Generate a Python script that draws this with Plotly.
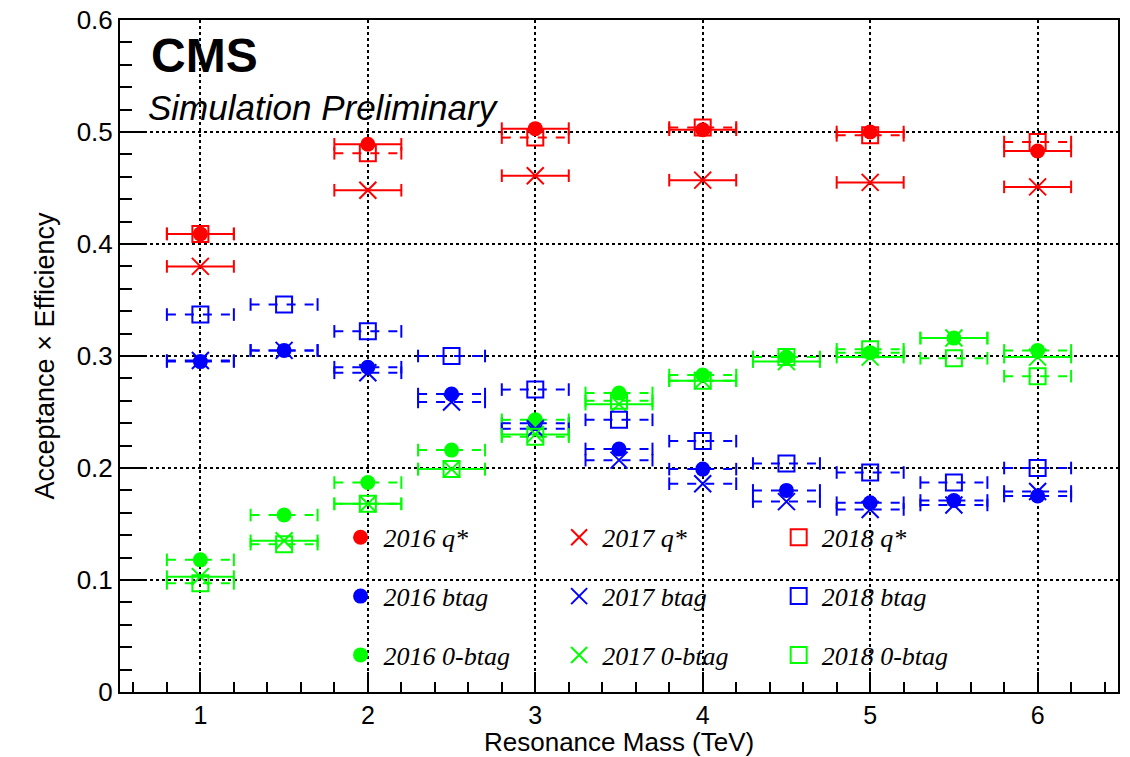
import numpy as np
import plotly.graph_objects as go

# ---------------- data ----------------
mass_qstar = [1, 2, 3, 4, 5, 6]
mass_btag = [1, 1.5, 2, 2.5, 3, 3.5, 4, 4.5, 5, 5.5, 6]
half_width = 0.2  # horizontal error (TeV)

qstar_2016 = [0.409, 0.489, 0.503, 0.502, 0.500, 0.483]
qstar_2017 = [0.380, 0.448, 0.461, 0.457, 0.455, 0.451]
qstar_2018 = [0.409, 0.481, 0.495, 0.504, 0.497, 0.491]

btag_2016 = [0.295, 0.305, 0.290, 0.266, 0.240, 0.217, 0.199, 0.180, 0.169, 0.171, 0.175]
btag_2017 = [0.296, 0.305, 0.285, 0.259, 0.235, 0.207, 0.186, 0.170, 0.163, 0.167, 0.179]
btag_2018 = [0.337, 0.346, 0.322, 0.300, 0.270, 0.243, 0.224, 0.204, 0.196, 0.187, 0.200]

zero_2016 = [0.118, 0.158, 0.187, 0.216, 0.243, 0.267, 0.283, 0.299, 0.303, 0.316, 0.305]
zero_2017 = [0.103, 0.135, 0.168, 0.199, 0.230, 0.257, 0.278, 0.295, 0.299, 0.316, 0.299]
zero_2018 = [0.097, 0.132, 0.168, 0.199, 0.228, 0.260, 0.278, 0.299, 0.306, 0.298, 0.282]

x_ticks = [1, 2, 3, 4, 5, 6]
y_ticks = [0, 0.1, 0.2, 0.3, 0.4, 0.5, 0.6]

RED, BLUE, GREEN = "#ff0000", "#0000ff", "#00ff00"

series = [
    # name, x, y, color, symbol, dash, legend
    ("2016 q*", mass_qstar, qstar_2016, RED, "circle", "solid", "legend"),
    ("2016 btag", mass_btag, btag_2016, BLUE, "circle", "dash", "legend"),
    ("2016 0-btag", mass_btag, zero_2016, GREEN, "circle", "dash", "legend"),
    ("2017 q*", mass_qstar, qstar_2017, RED, "x-thin-open", "solid", "legend2"),
    ("2017 btag", mass_btag, btag_2017, BLUE, "x-thin-open", "dash", "legend2"),
    ("2017 0-btag", mass_btag, zero_2017, GREEN, "x-thin-open", "solid", "legend2"),
    ("2018 q*", mass_qstar, qstar_2018, RED, "square-open", "dash", "legend3"),
    ("2018 btag", mass_btag, btag_2018, BLUE, "square-open", "dash", "legend3"),
    ("2018 0-btag", mass_btag, zero_2018, GREEN, "square-open", "dash", "legend3"),
]

fig = go.Figure()

for name, xs, ys, col, sym, dash, leg in series:
    xa = np.array(xs, dtype=float)
    ya = np.array(ys, dtype=float)
    # horizontal error bars
    bx, by = [], []
    for xv, yv in zip(xa, ya):
        bx += [xv - half_width, xv + half_width, None]
        by += [yv, yv, None]
    fig.add_trace(go.Scatter(x=bx, y=by, mode="lines", showlegend=False,
                             line=dict(color=col, width=2, dash=dash),
                             hoverinfo="skip"))
    # end caps
    cx = np.concatenate([xa - half_width, xa + half_width])
    cy = np.concatenate([ya, ya])
    fig.add_trace(go.Scatter(x=cx, y=cy, mode="markers", showlegend=False,
                             marker=dict(symbol="line-ns-open", size=9, color=col,
                                         line=dict(color=col, width=2)),
                             hoverinfo="skip"))

for name, xs, ys, col, sym, dash, leg in series:
    if sym == "circle":
        mk = dict(symbol=sym, size=15, color=col, line=dict(width=0))
    elif sym == "x-thin-open":
        mk = dict(symbol=sym, size=17, color=col, line=dict(color=col, width=2))
    else:
        mk = dict(symbol=sym, size=16, color=col, line=dict(color=col, width=2))
    fig.add_trace(go.Scatter(x=xs, y=ys, mode="markers", name=name,
                             marker=mk, legend=leg, legendgroup=name))

legend_common = dict(
    bgcolor="rgba(0,0,0,0)", borderwidth=0,
    font=dict(family="Liberation Serif", size=26, color="black", style="italic"),
    tracegroupgap=22, itemwidth=36, yanchor="top", xanchor="left",
)

fig.update_layout(
    width=1130, height=757,
    margin=dict(l=120, r=12, t=20, b=65),
    paper_bgcolor="white", plot_bgcolor="white",
    font=dict(family="Liberation Sans", color="black"),
    legend=dict(x=0.218, y=0.265, **legend_common),
    legend2=dict(x=0.437, y=0.265, **legend_common),
    legend3=dict(x=0.657, y=0.265, **legend_common),
    xaxis=dict(
        range=[0.52, 6.48], tickvals=x_ticks, ticktext=[str(v) for v in x_ticks],
        ticks="inside", ticklen=20, tickwidth=1.5, tickcolor="black",
        minor=dict(dtick=0.2, tick0=0, ticks="inside", ticklen=10, tickwidth=1.5, tickcolor="black", showgrid=False),
        showgrid=True, gridcolor="black", griddash="dot", gridwidth=1.5,
        showline=True, linecolor="black", linewidth=2, mirror=True,
        zeroline=False, tickfont=dict(size=25), automargin=False,
    ),
    yaxis=dict(
        range=[0, 0.6], tickvals=y_ticks, ticktext=["0", "0.1", "0.2", "0.3", "0.4", "0.5", "0.6"],
        ticks="inside", ticklen=24, tickwidth=1.5, tickcolor="black",
        minor=dict(dtick=0.02, tick0=0, ticks="inside", ticklen=12, tickwidth=1.5, tickcolor="black", showgrid=False),
        showgrid=True, gridcolor="black", griddash="dot", gridwidth=1.5,
        showline=True, linecolor="black", linewidth=2, mirror=True,
        zeroline=False, tickfont=dict(size=26), automargin=False,
        title=dict(text="Acceptance × Efficiency", font=dict(size=27), standoff=14),
    ),
    annotations=[
        dict(text="Resonance Mass (TeV)", x=0.5, y=-0.0745, xref="paper", yref="paper",
             xanchor="center", yanchor="middle", showarrow=False,
             font=dict(family="Liberation Sans", size=26, color="black")),
        dict(text="<b>CMS</b>", x=0.029, y=0.99, xref="paper", yref="paper",
             xanchor="left", yanchor="top", showarrow=False,
             font=dict(family="Liberation Sans", size=48, color="black")),
        dict(text="<i>Simulation Preliminary</i>", x=0.026, y=0.902, xref="paper", yref="paper",
             xanchor="left", yanchor="top", showarrow=False,
             font=dict(family="Liberation Sans", size=35, color="black")),
    ],
)

fig.write_html("out.html")
